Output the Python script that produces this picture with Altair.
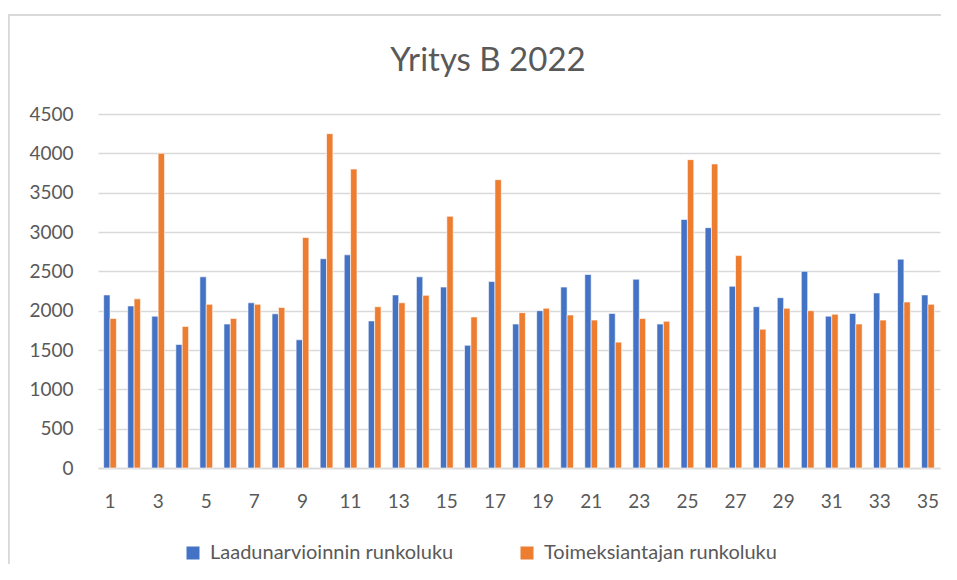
import altair as alt
import pandas as pd

title_text = "Yritys B 2022"
categories = list(range(1, 36))
series_names = ["Laadunarvioinnin runkoluku", "Toimeksiantajan runkoluku"]
laadunarviointi = [2200, 2060, 1930, 1570, 2430, 1830, 2100, 1960, 1630, 2660,
                   2710, 1870, 2200, 2430, 2300, 1560, 2370, 1830, 2000, 2300,
                   2460, 1965, 2400, 1830, 3160, 3055, 2310, 2050, 2165, 2500,
                   1930, 1965, 2225, 2655, 2200]
toimeksiantaja = [1900, 2150, 4000, 1800, 2080, 1900, 2080, 2040, 2930, 4250,
                  3800, 2050, 2100, 2195, 3200, 1920, 3665, 1975, 2030, 1945,
                  1880, 1600, 1900, 1865, 3920, 3865, 2700, 1765, 2030, 2000,
                  1955, 1830, 1880, 2110, 2080]
y_ticks = [0, 500, 1000, 1500, 2000, 2500, 3000, 3500, 4000, 4500]
x_labels = [1, 3, 5, 7, 9, 11, 13, 15, 17, 19, 21, 23, 25, 27, 29, 31, 33, 35]
colors = ["#4472C4", "#ED7D31"]

rows = []
for i, c in enumerate(categories):
    rows.append({"n": c, "sarja": series_names[0], "arvo": laadunarviointi[i]})
    rows.append({"n": c, "sarja": series_names[1], "arvo": toimeksiantaja[i]})
df = pd.DataFrame(rows)

FONT = "Lato"
TXT = "#595959"
GRID = "#D9D9D9"

bars = alt.Chart(df).mark_bar(stroke="white", strokeWidth=0.6).encode(
    x=alt.X("n:O", sort=categories,
            scale=alt.Scale(paddingInner=0.47, paddingOuter=0.235),
            axis=alt.Axis(title=None, values=x_labels, labelAngle=0, ticks=False,
                          labelPadding=24, labelFontSize=19, labelFont=FONT,
                          labelColor=TXT, domainColor=GRID, domainWidth=1.3,
                          grid=False)),
    xOffset=alt.XOffset("sarja:N", sort=series_names,
                        scale=alt.Scale(paddingInner=0.0, paddingOuter=0.0)),
    y=alt.Y("arvo:Q", scale=alt.Scale(domain=[0, 4500], nice=False),
            axis=alt.Axis(title=None, values=y_ticks, ticks=False, domain=False,
                          format="d",
                          labelPadding=25, labelFontSize=19, labelFont=FONT,
                          labelColor=TXT, gridColor=GRID, gridWidth=1.3)),
    color=alt.Color("sarja:N", sort=series_names,
                    scale=alt.Scale(domain=series_names, range=colors),
                    legend=alt.Legend(title=None, orient="none", direction="horizontal",
                                      legendX=85, legendY=429, symbolType="square",
                                      symbolSize=169, symbolStrokeWidth=0,
                                      labelFontSize=20, labelFont=FONT, labelColor=TXT,
                                      labelLimit=500,
                                      labelOffset=7, columnPadding=63, padding=0)),
)

frame_left = alt.Chart(df).mark_rule(color=GRID, strokeWidth=1.3).encode(
    x=alt.value(-89.5), y=alt.value(-99), y2=alt.value(470))
frame_top = alt.Chart(df).mark_rule(color=GRID, strokeWidth=1.3).encode(
    x=alt.value(-90), x2=alt.value(860), y=alt.value(-99))

title = alt.Chart(pd.DataFrame({"t": [title_text]})).mark_text(
    font=FONT, fontSize=33, color=TXT, align="center", baseline="alphabetic"
).encode(text="t:N", x=alt.value(390), y=alt.value(-43))

chart = alt.layer(frame_left, frame_top, bars, title).properties(
    width=842,
    height=354,
    padding={"left": 90, "top": 106, "right": 1, "bottom": 96},
    autosize=alt.AutoSizeParams(type="none"),
).configure_view(stroke=None)

chart.save("out.html", embed_options={"renderer": "svg", "actions": False})
